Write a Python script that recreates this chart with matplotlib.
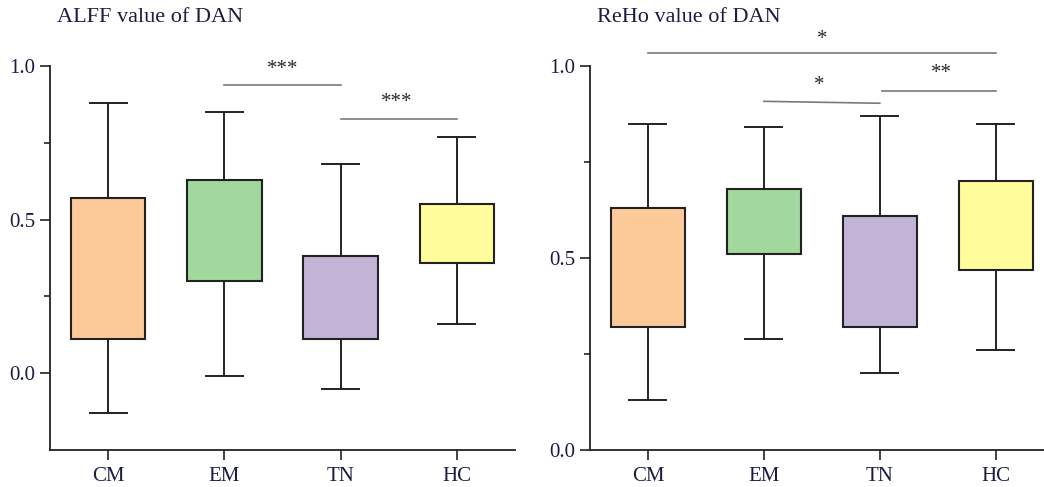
import numpy as np
import matplotlib.pyplot as plt

groups = ['CM', 'EM', 'TN', 'HC']
box_colors = ['#FCCA98', '#A0D89E', '#C3B3D7', '#FFFD9B']

# ALFF (left): lower whisker, Q1, Q3, upper whisker
alff_lo = [-0.13, -0.01, -0.05, 0.16]
alff_q1 = [0.11, 0.30, 0.11, 0.36]
alff_q3 = [0.57, 0.63, 0.38, 0.55]
alff_hi = [0.88, 0.85, 0.68, 0.77]

# ReHo (right)
reho_lo = [0.13, 0.29, 0.20, 0.26]
reho_q1 = [0.32, 0.51, 0.32, 0.47]
reho_q3 = [0.63, 0.68, 0.61, 0.70]
reho_hi = [0.85, 0.84, 0.87, 0.85]

# significance brackets: x1, x2, y1, y2, label, label x, label y
alff_sig = [(2, 3, 0.939, 0.939, '***', 2.5, 0.99),
            (3, 4, 0.828, 0.828, '***', 3.48, 0.88)]
reho_sig = [(1, 4, 1.035, 1.035, '*', 2.5, 1.07),
            (2, 3, 0.908, 0.903, '*', 2.48, 0.948),
            (3.02, 4, 0.936, 0.936, '**', 3.53, 0.98)]

txt_col = '#1b1d45'
plt.rcParams['font.family'] = ['Liberation Serif', 'DejaVu Serif']

fig = plt.figure(figsize=(10.44, 4.87), dpi=100)
W, H = 1044, 487
ax1 = fig.add_axes([50 / W, 37 / H, 465 / W, 384 / H])
ax2 = fig.add_axes([590 / W, 37 / H, 463.6 / W, 384 / H])


def draw(ax, lo, q1, q3, hi, sig, ylim):
    stats = []
    for i in range(len(groups)):
        stats.append(dict(whislo=lo[i], q1=q1[i], med=(q1[i] + q3[i]) / 2,
                          q3=q3[i], whishi=hi[i], fliers=[]))
    bp = ax.bxp(stats, positions=range(1, 5), widths=0.64, capwidths=0.32,
                patch_artist=True, showfliers=False,
                boxprops=dict(linewidth=1.5, edgecolor='#222222'),
                whiskerprops=dict(linewidth=1.4, color='#222222'),
                capprops=dict(linewidth=1.4, color='#222222'),
                medianprops=dict(linewidth=0))
    for patch, c in zip(bp['boxes'], box_colors):
        patch.set_facecolor(c)
    for x1, x2, y1, y2, lab, lx, ly in sig:
        ax.plot([x1, x2], [y1, y2], color='#7a7a7a', lw=1.2, clip_on=False)
        ax.text(lx, ly, lab, ha='center', va='center', fontsize=15,
                color='#2a2a2a', clip_on=False)
    ax.set_xlim(0.5, 4.5)
    ax.set_ylim(*ylim)
    ax.set_xticks(range(1, 5))
    ax.set_xticklabels(groups)
    ax.set_yticks([0.0, 0.5, 1.0])
    ax.set_yticklabels(['0.0', '0.5', '1.0'])
    ax.set_yticks([0.25, 0.75], minor=True)
    ax.spines['top'].set_visible(False)
    ax.spines['right'].set_visible(False)
    for s in ['left', 'bottom']:
        ax.spines[s].set_linewidth(1.3)
        ax.spines[s].set_color('#222222')
    ax.tick_params(axis='both', which='major', direction='out', length=7,
                   width=1.2, labelsize=15, labelcolor=txt_col, color='#222222')
    ax.tick_params(axis='y', which='minor', direction='out', length=4,
                   width=1.2, color='#222222')
    ax.tick_params(axis='x', pad=5)


draw(ax1, alff_lo, alff_q1, alff_q3, alff_hi, alff_sig, (-0.25, 1.0))
draw(ax2, reho_lo, reho_q1, reho_q3, reho_hi, reho_sig, (0.0, 1.0))

fig.text(57 / W, 1 - 18 / H, 'ALFF value of DAN', fontsize=16, color=txt_col, va='center')
fig.text(597 / W, 1 - 18 / H, 'ReHo value of DAN', fontsize=16, color=txt_col, va='center')

fig.savefig('out.png', dpi=100)
